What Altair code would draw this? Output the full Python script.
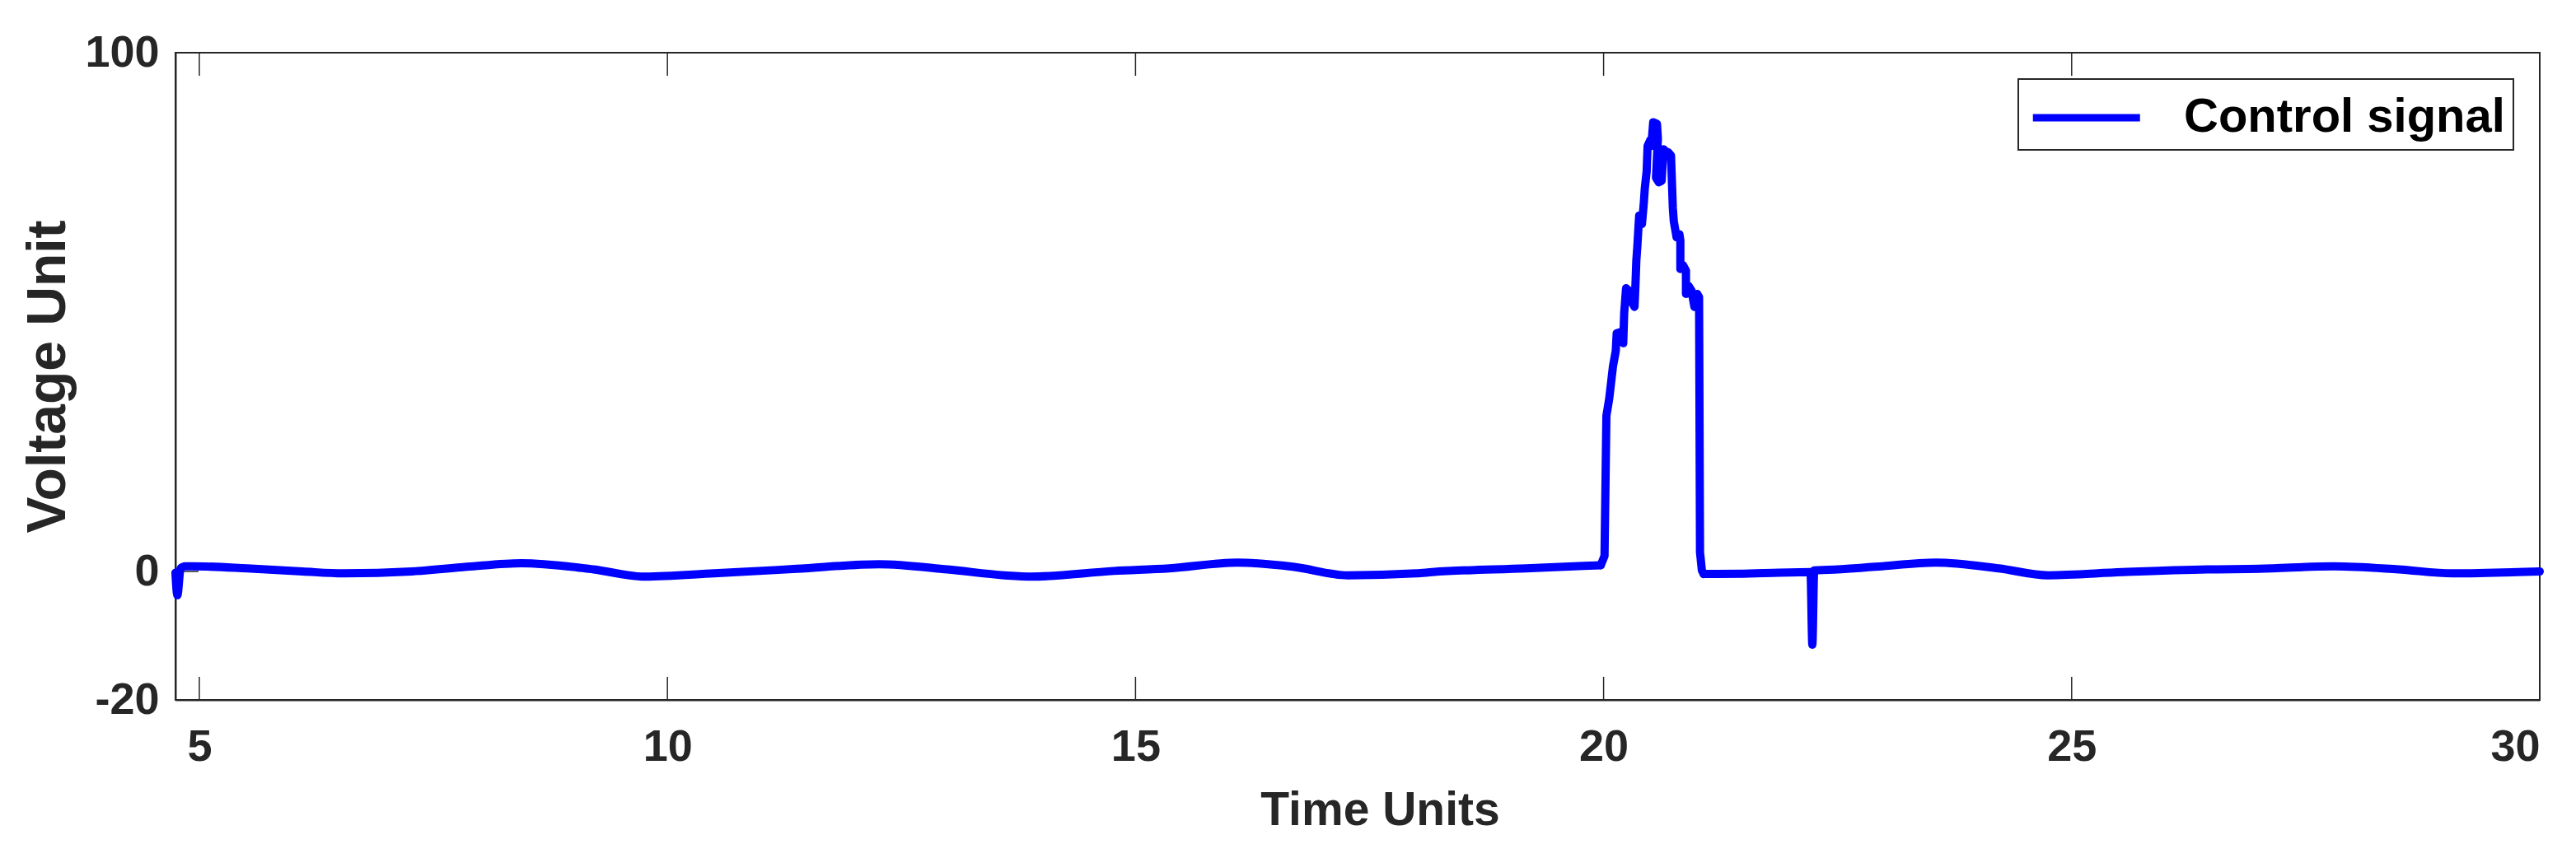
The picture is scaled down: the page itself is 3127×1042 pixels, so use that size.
import altair as alt
import pandas as pd

# ---- data ----
time = [4.745, 4.765, 4.80, 4.85, 4.92, 5.51, 6.10, 6.54, 7.27, 7.86, 8.44, 9.03, 9.21,
        9.76, 10.50, 11.38, 12.26, 12.99, 13.60, 13.89, 14.77, 15.36, 16.09, 16.68,
        17.27, 18.00, 18.17, 19.17, 19.97,
        20.01, 20.03, 20.06, 20.10, 20.13, 20.14, 20.19, 20.21, 20.22, 20.24,
        20.28, 20.30, 20.33, 20.34, 20.35, 20.36, 20.38, 20.41, 20.43, 20.44,
        20.46, 20.47, 20.50, 20.51, 20.53, 20.57, 20.58, 20.56, 20.59, 20.62,
        20.64, 20.66, 20.69, 20.72, 20.74, 20.75, 20.78, 20.81, 20.82, 20.82,
        20.85, 20.88, 20.88, 20.91, 20.94, 20.97, 21.00, 21.02, 21.03, 21.05, 21.07,
        21.50, 22.21, 22.23, 22.25, 22.40, 22.90, 23.55, 24.22, 24.75, 25.54,
        26.45, 27.00, 27.80, 28.49, 29.07, 30.00]
voltage = [-0.2, -3.7, 0.6, 1.0, 1.0, 0.6, 0.0, -0.3, 0.0, 0.9, 1.6, 0.8, 0.4,
           -0.8, -0.3, 0.5, 1.4, 0.4, -0.6, -0.8, 0.1, 0.6, 1.7, 0.9,
           -0.6, -0.3, -0.1, 0.6, 1.2,
           3.0, 30.0, 33.3, 39.5, 42.5, 45.9, 46.2, 44.0, 49.8, 54.6,
           54.0, 52.0, 51.0, 55.0, 60.0, 62.5, 68.6, 67.0, 71.1, 73.8,
           77.1, 82.0, 83.2, 82.0, 86.6, 86.3, 83.5, 75.9, 75.0, 75.3,
           81.4, 81.0, 80.8, 80.2, 70.0, 67.5, 64.4, 65.0, 63.8, 58.3,
           59.0, 58.0, 53.5, 55.0, 54.1, 51.0, 53.5, 52.9, 3.7, 0.2, -0.4,
           -0.35, -0.1, -11.4, 0.2, 0.3, 0.9, 1.7, 0.6, -0.6, -0.1,
           0.4, 0.5, 1.0, 0.4, -0.3, 0.0]
series_name = "Control signal"
x_ticks = [5, 10, 15, 20, 25, 30]
y_ticks = [-20, 0, 100]
peak_start, peak_end = 28, 79   # indices bounding the pulse (drawn with straight segments)

W, H = 2870, 786
FONT = "Liberation Sans"
AX = "#262626"

df = pd.DataFrame({"t": time, "v": voltage})
df["i"] = range(len(df))
df["series"] = series_name

xs = alt.Scale(domain=[4.745, 30], nice=False, zero=False)
ys = alt.Scale(domain=[-20, 0, 100], range=[H, 630, 0], nice=False, zero=False)
minus_expr = "datum.value < 0 ? '-' + abs(datum.value) : datum.label"

enc = dict(
    x=alt.X("t:Q", scale=xs,
            axis=alt.Axis(values=x_ticks, format="d", title="Time Units", grid=False,
                          ticks=False, tickSize=0, labelPadding=30, titlePadding=22,
                          titleX=1462, labelFontSize=54, titleFontSize=57)),
    y=alt.Y("v:Q", scale=ys,
            axis=alt.Axis(values=y_ticks, format="d", title="Voltage Unit", grid=False,
                          ticks=False, tickSize=0, labelPadding=20, titlePadding=10,
                          labelFontSize=54, titleFontSize=66, labelExpr=minus_expr)),
    color=alt.Color("series:N", scale=alt.Scale(domain=[series_name], range=["#0000FF"]),
                    title=None),
    order="i:Q",
)
base = alt.Chart(df)
lstyle = dict(strokeWidth=10, strokeCap="round", strokeJoin="round")
part1 = base.transform_filter(f"datum.i <= {peak_start}").mark_line(
    interpolate="monotone", **lstyle).encode(**enc)
pulse = base.transform_filter(
    f"datum.i >= {peak_start} && datum.i <= {peak_end}").mark_line(**lstyle).encode(**enc)
part2 = base.transform_filter(f"datum.i >= {peak_end}").mark_line(
    interpolate="monotone", **lstyle).encode(**enc)

xt = pd.DataFrame({"x": x_ticks})
yt = pd.DataFrame({"y": y_ticks})
tick_style = dict(color=AX, strokeWidth=1.5)
bottom_ticks = alt.Chart(xt).mark_rule(**tick_style).encode(
    x=alt.X("x:Q", scale=xs), y=alt.value(H), y2=alt.value(H - 28))
top_ticks = alt.Chart(xt).mark_rule(**tick_style).encode(
    x=alt.X("x:Q", scale=xs), y=alt.value(0), y2=alt.value(28))
left_ticks = alt.Chart(yt).mark_rule(**tick_style).encode(
    y=alt.Y("y:Q", scale=ys), x=alt.value(0), x2=alt.value(28))
right_ticks = alt.Chart(yt).mark_rule(**tick_style).encode(
    y=alt.Y("y:Q", scale=ys), x=alt.value(W), x2=alt.value(W - 28))

chart = alt.layer(bottom_ticks, top_ticks, left_ticks, right_ticks,
                  part1, pulse, part2).properties(
    width=W, height=H,
    autosize=alt.AutoSizeParams(type="none"),
    padding={"left": 205, "top": 56, "right": 30, "bottom": 170},
).configure_view(
    stroke=AX, strokeWidth=2,
).configure_axis(
    labelFont=FONT, titleFont=FONT, labelFontWeight="bold", titleFontWeight="bold",
    labelColor=AX, titleColor=AX, domainColor=AX, domainWidth=2,
).configure_legend(
    orient="none", legendX=2237, legendY=32,
    strokeColor=AX, strokeWidth=2, fillColor="white", padding=10,
    symbolType="M-0.9,0H3.1", symbolSize=4225, symbolStrokeWidth=9,
    labelFont=FONT, labelFontWeight="bold", labelFontSize=58, labelColor="black",
    labelOffset=117, labelLimit=800,
)

chart.save("out.html", embed_options={"renderer": "svg", "actions": False})
